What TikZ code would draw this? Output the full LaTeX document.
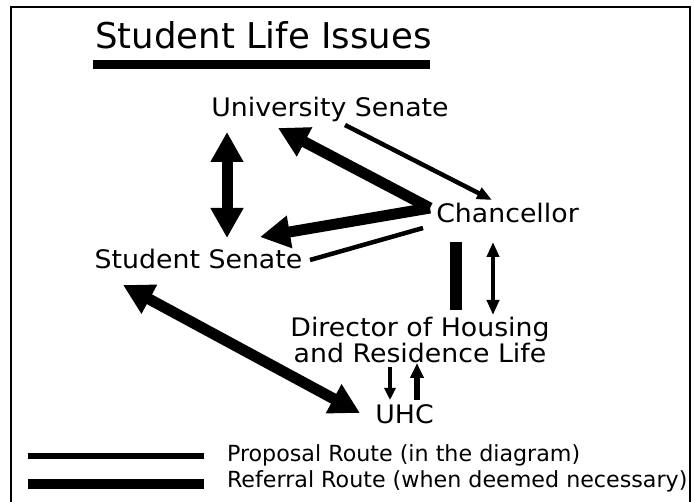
\documentclass[tikz,border=0pt]{standalone}
\usepackage{fontspec}
\setmainfont{DejaVu Sans}
\newfontfamily\widefont[FakeStretch=1.05]{DejaVu Sans}
\usetikzlibrary{arrows.meta,calc}

\tikzset{
  label/.style={inner sep=0pt, outer sep=0pt, anchor=base, font=\widefont\fontsize{25.5}{26}\selectfont},
  legendtext/.style={inner sep=0pt, outer sep=0pt, anchor=base west, font=\fontsize{22.2}{26}\selectfont},
  proposal/.style={line width=4.5pt},
  referral/.style={line width=11pt},
  bigtip/.style={-{Triangle[length=30pt,width=31pt]}},
  bigtips/.style={{Triangle[length=30pt,width=31pt]}-{Triangle[length=30pt,width=31pt]}},
  smalltip/.style={-{Triangle[length=15pt,width=12pt]}},
  smalltips/.style={{Triangle[length=15pt,width=12pt]}-{Triangle[length=15pt,width=12pt]}},
  frameline/.style={line width=2.5pt, draw=black}
}

\begin{document}
\begin{tikzpicture}[x=1pt,y=-1pt]
\useasboundingbox (0,0) rectangle (694,502);
\fill[white] (0,0) rectangle (694,502);

% frame, open at the bottom
\draw[frameline] (11,502) -- (11,7) -- (690,7) -- (690,502);

% heading with its bar
\node[inner sep=0pt, anchor=base west, font=\fontsize{35.5}{40}\selectfont] (title) at (95,49) {Student Life Issues};
\fill ($(title.base west)+(-2,11)$) rectangle ($(title.base west)+(335,20)$);

% bodies
\node[label] (usen) at (330,117) {University Senate};
\node[label] (chan) at (507.5,223) {Chancellor};
\node[label] (ssen) at (198.5,269) {Student Senate};
\node[label] (dir)  at (420,337) {Director of Housing};
\node[label] (res)  at (420,363) {and Residence Life};
\node[label] (uhc)  at (404.5,424) {UHC};

% University Senate <-> Student Senate
\draw[referral, bigtips] ($(usen.base)+(-103,15)$) -- ($(ssen.base)+(28.5,-31)$);
% Chancellor -> University Senate, Chancellor -> Student Senate
\draw[referral, bigtip] ($(chan.base)+(-77.5,-15)$) -- ($(usen.base)+(-52,11)$);
\draw[referral, bigtip] ($(chan.base)+(-77.5,-15)$) -- ($(ssen.base)+(61.5,-32)$);
% Chancellor -- Student Senate
\draw[proposal] ($(chan.base)+(-84.5,5)$) -- ($(ssen.base)+(111.5,-9)$);
% University Senate -> Chancellor
\draw[proposal, smalltip] ($(usen.base)+(15,8)$) -- ($(chan.base)+(-15.5,-23)$);
% Chancellor -- Director
\draw[line width=12pt] ($(chan.base)+(-51.5,19)$) -- ($(dir.base)+(36,-27)$);
\draw[proposal, smalltips] ($(chan.base)+(-14.5,19)$) -- ($(dir.base)+(73,-22)$);
% Director <-> UHC
\draw[proposal, -{Triangle[length=12pt,width=11pt]}] ($(res.base)+(-30,4)$) -- ($(uhc.base)+(-14.5,-24)$);
\draw[line width=5.5pt, -{Triangle[length=15pt,width=13pt]}] ($(uhc.base)+(12.5,-24)$) -- ($(res.base)+(-3,0)$);
% Student Senate <-> UHC
\draw[referral, bigtips] ($(ssen.base)+(-75.5,16)$) -- ($(uhc.base)+(-44.5,-11)$);

% legend
\node[legendtext] (prop) at (227,462) {Proposal Route (in the diagram)};
\node[legendtext] (refr) at (227,488) {Referral Route (when deemed necessary)};
\draw[line width=6pt] ($(prop.base west)+(-199,-6)$) -- ($(prop.base west)+(-23,-6)$);
\draw[line width=10pt] ($(refr.base west)+(-199,-4)$) -- ($(refr.base west)+(-23,-4)$);
\end{tikzpicture}
\end{document}
